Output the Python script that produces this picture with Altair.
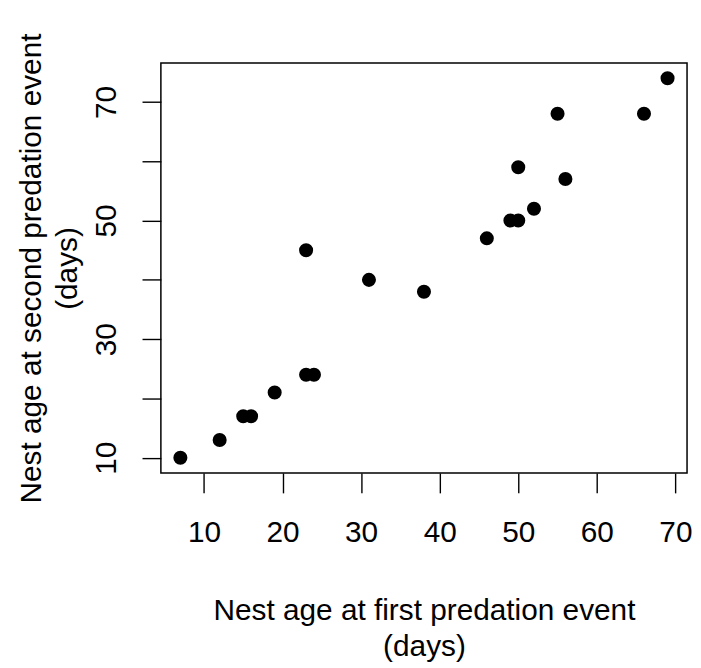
import altair as alt
import pandas as pd

# Data
first_age = [7, 12, 15, 16, 19, 23, 24, 23, 31, 38, 46, 49, 50, 50, 52, 55, 56, 66, 69]
second_age = [10, 13, 17, 17, 21, 24, 24, 45, 40, 38, 47, 50, 50, 59, 52, 68, 57, 68, 74]
x_ticks = [10, 20, 30, 40, 50, 60, 70]
y_ticks = [10, 20, 30, 40, 50, 60, 70]
x_title = ["Nest age at first predation event", "(days)"]
y_title = ["Nest age at second predation event", "(days)"]

df = pd.DataFrame({"first": first_age, "second": second_age})

FONT = "Liberation Sans"
FS = 30
W, H = 530, 413

x_axis = alt.Axis(
    values=x_ticks, grid=False, domain=False,
    tickSize=20, tickColor="black", tickWidth=1.4,
    labelFont=FONT, labelFontSize=FS, labelColor="black",
    labelBaseline="alphabetic", labelPadding=48.5,
    labelOverlap=False, labelFlush=False,
    title=x_title, titleFont=FONT, titleFontSize=FS, titleFontWeight="normal",
    titleColor="black", titleBaseline="alphabetic", titleLineHeight=36,
    titleX=W / 2, titleY=148, titleAlign="center",
)
y_axis = alt.Axis(
    values=y_ticks, grid=False, domain=False,
    tickSize=19, tickColor="black", tickWidth=1.4,
    labelFont=FONT, labelFontSize=FS, labelColor="black",
    labelAngle=270, labelAlign="center", labelBaseline="alphabetic",
    labelPadding=27, labelOverlap=False, labelFlush=False,
    labelExpr="datum.value % 20 == 10 ? datum.label : ''",
    title=y_title, titleFont=FONT, titleFontSize=FS, titleFontWeight="normal",
    titleColor="black", titleBaseline="alphabetic", titleLineHeight=36,
    titleAngle=270, titleX=-121, titleY=H / 2, titleAlign="center",
)

chart = (
    alt.Chart(df)
    .mark_circle(size=200, color="black", opacity=1)
    .encode(
        x=alt.X("first:Q", scale=alt.Scale(domain=[4.52, 71.48], nice=False, zero=False), axis=x_axis),
        y=alt.Y("second:Q", scale=alt.Scale(domain=[7.44, 76.56], nice=False, zero=False), axis=y_axis),
    )
    .properties(
        width=W, height=H,
        autosize=alt.AutoSizeParams(type="none"),
        padding={"left": 154, "top": 53, "right": 6, "bottom": 192},
        background="white",
    )
    .configure_view(stroke="black", strokeWidth=1.5)
)

chart.save("out.html", embed_options={"renderer": "svg", "actions": False})
